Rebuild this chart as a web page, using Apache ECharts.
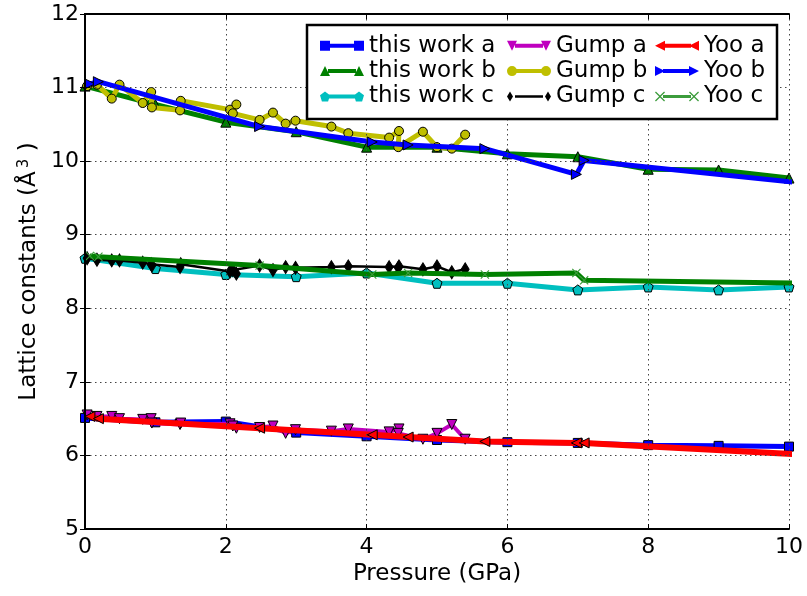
<!DOCTYPE html>
<html>
<head>
<meta charset="utf-8">
<script src="https://cdn.jsdelivr.net/npm/echarts@6/dist/echarts.min.js"></script>
<style>
  html, body { margin: 0; padding: 0; background: #fff; }
  #chart { width: 807px; height: 596px; }
</style>
</head>
<body>
<div id="chart"></div>
<script>
// Lattice constants a, b, c versus pressure: this work, Gump and Yoo.
const workP = [0, 1, 2, 3, 4, 5, 6, 7, 8, 9, 10];
const workA = [6.51, 6.45, 6.46, 6.31, 6.26, 6.21, 6.18, 6.17, 6.14, 6.13, 6.12];
const workB = [11.02, 10.77, 10.53, 10.40, 10.19, 10.19, 10.10, 10.06, 9.89, 9.88, 9.77];
const workC = [8.68, 8.54, 8.46, 8.43, 8.48, 8.34, 8.34, 8.25, 8.29, 8.25, 8.29];

const gumpP = [0.03, 0.17, 0.38, 0.49, 0.82, 0.94, 0.95, 1.35, 1.36, 2.06, 2.15, 2.10, 2.48,
               2.67, 2.85, 2.99, 3.50, 3.74, 4.32, 4.46, 4.45, 4.80, 5.00, 5.21, 5.40];
const gumpA = [6.55, 6.53, 6.53, 6.50, 6.49, 6.50, 6.44, 6.42, 6.44, 6.43, 6.37, 6.40, 6.38,
               6.40, 6.30, 6.35, 6.33, 6.36, 6.32, 6.36, 6.30, 6.22, 6.30, 6.42, 6.22];
const gumpB = [11.02, 11.04, 10.85, 11.04, 10.79, 10.94, 10.73, 10.69, 10.82, 10.70, 10.77, 10.65, 10.56,
               10.66, 10.51, 10.55, 10.47, 10.38, 10.32, 10.41, 10.19, 10.40, 10.19, 10.17, 10.36];
const gumpC = [8.68, 8.66, 8.65, 8.65, 8.62, 8.60, 8.58, 8.56, 8.60, 8.50, 8.47, 8.52, 8.58,
               8.52, 8.56, 8.55, 8.56, 8.57, 8.56, 8.57, 8.55, 8.53, 8.57, 8.49, 8.53];

const yooP = [0.07, 0.19, 2.48, 4.08, 4.59, 5.68, 6.98, 7.09, 11.0];
const yooA = [6.53, 6.50, 6.37, 6.28, 6.25, 6.19, 6.17, 6.17, 5.97];
const yooB = [11.05, 11.08, 10.47, 10.26, 10.22, 10.17, 9.82, 10.01, 9.62];
const yooC = [8.71, 8.70, 8.58, 8.46, 8.48, 8.46, 8.48, 8.38, 8.33];

const FONT = 'DejaVu Sans';

const pairs = (xs, ys) => xs.map((x, i) => [x, ys[i]]);

const PENTAGON = 'path://M5,0L10,3.8L8.1,10L1.9,10L0,3.8Z';
const XMARK = 'path://M0,0.9L0.9,0L5,4.1L9.1,0L10,0.9L5.9,5L10,9.1L9.1,10L5,5.9L0.9,10L0,9.1L4.1,5Z';

// legend icons: marker - line - marker
const bar = (t) => `M8,${5 - t / 2}H36V${5 + t / 2}H8Z`;
const icons = {
  'this work a': 'path://M0,0H10V10H0Z' + bar(4) + 'M34,0H44V10H34Z',
  'this work b': 'path://M0,10L5,0L10,10Z' + bar(4) + 'M34,10L39,0L44,10Z',
  'this work c': 'path://M5,0L10,3.8L8.1,10L1.9,10L0,3.8Z' + bar(4) + 'M39,0L44,3.8L42.1,10L35.9,10L34,3.8Z',
  'Gump a': 'path://M0,0H10L5,10Z' + bar(4) + 'M34,0H44L39,10Z',
  'Gump b': 'path://M0,5A5,5,0,1,1,10,5A5,5,0,1,1,0,5Z' + bar(4) + 'M34,5A5,5,0,1,1,44,5A5,5,0,1,1,34,5Z',
  'Gump c': 'path://M3,0L6,5L3,10L0,5Z' + bar(2.5) + 'M41,0L44,5L41,10L38,5Z',
  'Yoo a': 'path://M0,5L10,0V10Z' + bar(4) + 'M34,5L44,0V10Z',
  'Yoo b': 'path://M0,0L10,5L0,10Z' + bar(4) + 'M34,0L44,5L34,10Z',
  'Yoo c': 'path://M0,0.9L0.9,0L5,4.1L9.1,0L10,0.9L5.9,5L10,9.1L9.1,10L5,5.9L0.9,10L0,9.1L4.1,5Z' + bar(3) +
           'M34,0.9L34.9,0L39,4.1L43.1,0L44,0.9L39.9,5L44,9.1L43.1,10L39,5.9L34.9,10L34,9.1L38.1,5Z'
};

let zOrder = 2;
function lineSeries(name, xs, ys, color, symbol, size, width, extra) {
  return Object.assign({
    name: name,
    type: 'line',
    data: pairs(xs, ys),
    z: zOrder++,
    symbol: symbol,
    symbolSize: size,
    showAllSymbol: true,
    color: color,
    lineStyle: { color: color, width: width },
    itemStyle: { color: color, borderColor: '#000', borderWidth: 1, opacity: 1 },
    emphasis: { disabled: true },
    animation: false
  }, extra || {});
}

const series = [
  lineSeries('this work a', workP, workA, '#0000ff', 'rect', 9, 5),
  lineSeries('this work b', workP, workB, '#008000', 'triangle', 10, 5),
  lineSeries('this work c', workP, workC, '#00bfbf', PENTAGON, 10, 5),
  lineSeries('Gump a', gumpP, gumpA, '#bf00bf', 'triangle', 10, 4, { symbolRotate: 180 }),
  lineSeries('Gump b', gumpP, gumpB, '#bfbf00', 'circle', 9, 5),
  lineSeries('Gump c', gumpP, gumpC, '#000000', 'diamond', [8, 13], 2.5),
  lineSeries('Yoo a', yooP, yooA, '#ff0000', 'triangle', 10, 6, { symbolRotate: 90 }),
  lineSeries('Yoo b', yooP, yooB, '#0000ff', 'triangle', 10, 5, { symbolRotate: -90 }),
  lineSeries('Yoo c', yooP, yooC, '#008000', XMARK, 9, 5,
             { itemStyle: { color: '#3c9c3c', borderWidth: 0, opacity: 1 } })
];

function legendColumn(names, left) {
  return {
    orient: 'vertical',
    left: left,
    top: 33,
    padding: 0,
    itemGap: 0,
    itemWidth: 44,
    itemHeight: 10,
    selectedMode: false,
    z: 50,
    textStyle: { fontFamily: FONT, fontSize: 23, color: '#000', lineHeight: 25.4 },
    data: names.map(n => ({ name: n, icon: icons[n], itemStyle: { borderWidth: 0 } }))
  };
}

const tickStyle = { show: true, inside: true, length: 5, lineStyle: { color: '#000', width: 1 } };
const frameLine = { show: true, lineStyle: { color: '#000', width: 2 } };
const gridLine = { show: true, lineStyle: { color: '#444', width: 1, type: [1.5, 3.5] } };

const option = {
  backgroundColor: '#fff',
  animation: false,
  textStyle: { fontFamily: FONT },
  grid: { left: 85, right: 18, top: 14, bottom: 67 },
  xAxis: [
    {
      type: 'value', position: 'bottom', min: 0, max: 10, interval: 2, z: 20,
      name: 'Pressure (GPa)', nameLocation: 'middle', nameGap: 33,
      nameTextStyle: { fontFamily: FONT, fontSize: 23, color: '#000' },
      axisLine: frameLine, axisTick: tickStyle, splitLine: gridLine,
      axisLabel: { fontFamily: FONT, fontSize: 22, color: '#000', margin: 7 }
    },
    {
      type: 'value', position: 'top', min: 0, max: 10, interval: 2, z: 20,
      axisLine: frameLine, axisTick: tickStyle, splitLine: { show: false },
      axisLabel: { show: false }
    }
  ],
  yAxis: [
    {
      type: 'value', position: 'left', min: 5, max: 12, interval: 1, z: 20,
      name: '{a|Lattice constants (Å}{s|3}{a| )}', nameLocation: 'middle', nameGap: 38,
      nameTextStyle: {
        fontFamily: FONT, fontSize: 23, color: '#000',
        rich: {
          a: { fontFamily: FONT, fontSize: 23, color: '#000' },
          s: { fontFamily: FONT, fontSize: 15, color: '#000', verticalAlign: 'top', padding: [0, 0, 0, 3] }
        }
      },
      axisLine: frameLine, axisTick: tickStyle, splitLine: gridLine,
      axisLabel: { fontFamily: FONT, fontSize: 22, color: '#000', margin: 6 }
    },
    {
      type: 'value', position: 'right', min: 5, max: 12, interval: 1, z: 20,
      axisLine: frameLine, axisTick: tickStyle, splitLine: { show: false },
      axisLabel: { show: false }
    }
  ],
  legend: [
    legendColumn(['this work a', 'this work b', 'this work c'], 320),
    legendColumn(['Gump a', 'Gump b', 'Gump c'], 507),
    legendColumn(['Yoo a', 'Yoo b', 'Yoo c'], 655)
  ],
  graphic: [{
    type: 'rect', z: 45, silent: true,
    shape: { x: 307, y: 25, width: 470, height: 94 },
    style: { fill: '#fff', stroke: '#000', lineWidth: 2.5 }
  }],
  series: series
};

const chart = echarts.init(document.getElementById('chart'), null, { renderer: 'canvas' });
chart.setOption(option);
</script>
</body>
</html>
